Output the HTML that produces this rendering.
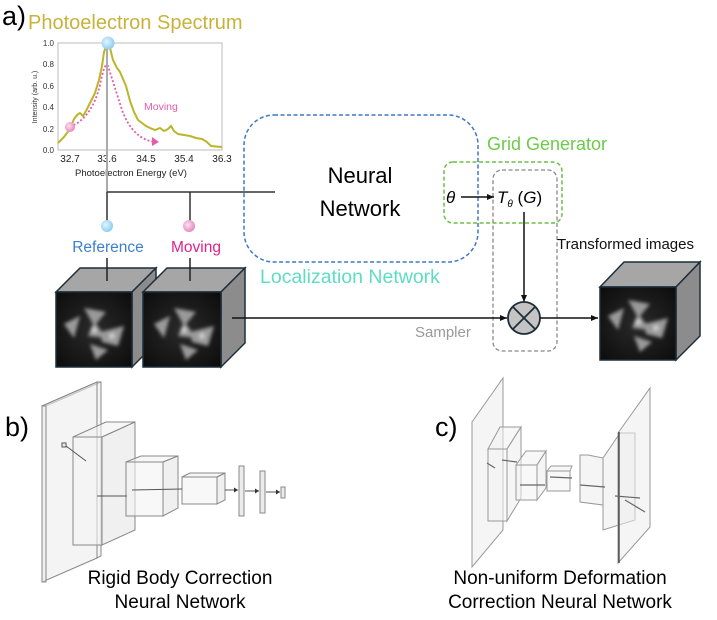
<!DOCTYPE html>
<html><head><meta charset="utf-8"><style>
html,body{margin:0;padding:0;background:#fff;}
svg{display:block;}
text{font-family:"Liberation Sans",sans-serif;}
</style></head><body>
<svg width="717" height="620" viewBox="0 0 717 620" xmlns="http://www.w3.org/2000/svg">
<defs>
<radialGradient id="bb" cx="0.4" cy="0.4" r="0.6"><stop offset="0" stop-color="#e4f6ff"/><stop offset="1" stop-color="#8dcdf0"/></radialGradient>
<radialGradient id="pb" cx="0.4" cy="0.4" r="0.6"><stop offset="0" stop-color="#ffe0f0"/><stop offset="1" stop-color="#e58ac0"/></radialGradient>
<radialGradient id="img" cx="0.5" cy="0.5" r="0.7"><stop offset="0" stop-color="#2a2a2a"/><stop offset="1" stop-color="#0c0c0c"/></radialGradient>
<filter id="bl"><feGaussianBlur stdDeviation="1.8"/></filter>
<g id="tris" filter="url(#bl)" fill="#9a9a9a">
<polygon points="-32,-6 -16,-14 -22,8"/>
<polygon points="-12,-22 10,-18 0,-6 10,8 -8,6 -3,-6"/>
<polygon points="4,2 28,-4 22,16 6,12"/>
<polygon points="-6,14 12,20 0,30"/>
<circle cx="-2" cy="0" r="3" fill="#ccc"/>
<circle cx="16" cy="6" r="3" fill="#ccc"/>
</g>
<marker id="ar" markerWidth="8" markerHeight="8" refX="7" refY="4" orient="auto" markerUnits="userSpaceOnUse"><path d="M0,1 L7,4 L0,7 z" fill="#111"/></marker>
<marker id="as" markerWidth="5" markerHeight="5" refX="4" refY="2.5" orient="auto" markerUnits="userSpaceOnUse"><path d="M0,0 L4,2.5 L0,5 z" fill="#333"/></marker>
</defs>

<!-- a) -->
<text x="2" y="25" font-size="27" fill="#000">a)</text>
<text x="28" y="29" font-size="20" fill="#c9b23a">Photoelectron Spectrum</text>

<!-- plot -->
<rect x="58" y="43" width="164" height="107" fill="#fff" stroke="#bbb" stroke-width="1"/>
<g font-size="8" fill="#333" text-anchor="end">
<text x="54" y="46">1.0</text><text x="54" y="67">0.8</text><text x="54" y="89">0.6</text><text x="54" y="110">0.4</text><text x="54" y="132">0.2</text><text x="54" y="153">0.0</text>
</g>
<text transform="translate(37,97) rotate(-90)" font-size="7" fill="#333" text-anchor="middle">Intensity (arb. u.)</text>
<g font-size="10" fill="#222" text-anchor="middle">
<text x="70" y="162">32.7</text><text x="107" y="162">33.6</text><text x="146" y="162">34.5</text><text x="184" y="162">35.4</text><text x="222" y="162">36.3</text>
</g>
<text x="131" y="176" font-size="9.5" fill="#222" text-anchor="middle">Photoelectron Energy (eV)</text>
<path d="M58,143 L64,137 L70,129 L74,119 L77,115 L80,113 L83,116 L86,111 L90,103 L95,93 L99,80 L102,66 L104,52 L107,44 L110,48 L113,60 L117,68 L120,72 L123,79 L126,86 L130,101 L134,112 L138,120 L142,123 L146,126 L150,128 L155,130 L160,128 L164,131 L168,129 L171,126 L174,131 L178,134 L184,135 L190,136 L196,138 L202,139 L207,142 L211,146 L222,147" fill="none" stroke="#bcb52a" stroke-width="2"/>
<path d="M70,127 Q92,118 100,85 Q105,60 108,66 Q114,85 122,110 Q133,140 156,142" fill="none" stroke="#e65ca8" stroke-width="1.8" stroke-dasharray="2,2"/>
<polygon points="152,137 159,142 152,146" fill="#e65ca8"/>
<text x="144" y="110" font-size="10.5" fill="#e65ca8">Moving</text>
<circle cx="70" cy="127" r="5" fill="url(#pb)"/>

<line x1="107" y1="44" x2="107" y2="192" stroke="#aaa" stroke-width="2"/>
<circle cx="108" cy="43" r="6.5" fill="url(#bb)"/>
<line x1="107" y1="192" x2="275" y2="192" stroke="#333" stroke-width="1.5"/>
<line x1="107" y1="192" x2="107" y2="222" stroke="#333" stroke-width="1.5"/>
<line x1="190" y1="192" x2="190" y2="222" stroke="#333" stroke-width="1.5"/>
<circle cx="107" cy="226" r="6" fill="url(#bb)"/>
<circle cx="189" cy="226" r="6" fill="url(#pb)"/>
<text x="108" y="252" font-size="15.5" fill="#3d7fcf" text-anchor="middle">Reference</text>
<text x="196" y="252" font-size="15.5" fill="#e0228d" text-anchor="middle">Moving</text>

<!-- cubes -->
<g stroke="#1e2e3a" stroke-width="1.5">
<polygon points="56,292 80,268 156,268 132,292" fill="#a6a6a6"/>
<polygon points="132,292 156,268 156,343 132,367" fill="#8c8c8c"/>
<rect x="56" y="292" width="76" height="75" fill="url(#img)"/>
<polygon points="143,292 167,268 245,268 221,292" fill="#a6a6a6"/>
<polygon points="221,292 245,268 245,343 221,367" fill="#8c8c8c"/>
<rect x="143" y="292" width="78" height="75" fill="url(#img)"/>
<polygon points="600,287 624,262 700,262 676,287" fill="#a6a6a6"/>
<polygon points="676,287 700,262 700,336 676,360" fill="#8c8c8c"/>
<rect x="600" y="287" width="76" height="73" fill="url(#img)"/>
</g>
<use href="#tris" x="96" y="330"/>
<use href="#tris" x="186" y="330"/>
<use href="#tris" x="640" y="322"/>
<line x1="107" y1="258" x2="107" y2="281" stroke="#222" stroke-width="1.5"/>
<line x1="190" y1="258" x2="190" y2="281" stroke="#222" stroke-width="1.5"/>

<!-- localization -->
<rect x="244" y="115" width="234" height="147" rx="30" fill="none" stroke="#3d78c8" stroke-width="1.5" stroke-dasharray="4,2.5"/>
<text x="360" y="183" font-size="22" fill="#000" text-anchor="middle">Neural</text>
<text x="360" y="216" font-size="22" fill="#000" text-anchor="middle">Network</text>
<text x="260" y="283" font-size="19.5" fill="#5fdcc4">Localization Network</text>

<!-- grid gen / sampler -->
<rect x="444" y="162" width="118" height="61" rx="9" fill="none" stroke="#6cbf46" stroke-width="1.5" stroke-dasharray="4,2.5"/>
<rect x="493" y="170" width="64" height="181" rx="9" fill="none" stroke="#888" stroke-width="1.3" stroke-dasharray="4,2.5"/>
<text x="487" y="150" font-size="18" fill="#6ccb4a">Grid Generator</text>
<text x="446" y="203" font-size="17" font-style="italic" font-family="Liberation Serif,serif">θ</text>
<line x1="461" y1="197" x2="494" y2="197" stroke="#111" stroke-width="1.5" marker-end="url(#ar)"/>
<text x="497" y="203" font-size="17" font-family="Liberation Serif,serif"><tspan font-style="italic">T</tspan><tspan font-size="10" font-style="italic" dy="4">θ</tspan><tspan dy="-4"> (</tspan><tspan font-style="italic">G</tspan>)</text>
<line x1="524" y1="212" x2="524" y2="302" stroke="#111" stroke-width="1.5" marker-end="url(#ar)"/>
<text x="415" y="337" font-size="15" fill="#9a9a9a">Sampler</text>
<text x="557" y="249" font-size="15" fill="#111">Transformed images</text>
<line x1="232" y1="318" x2="507" y2="318" stroke="#111" stroke-width="1.5" marker-end="url(#ar)"/>
<circle cx="524" cy="318" r="16" fill="#c4c4c4" stroke="#1e2e3a" stroke-width="1.8"/>
<line x1="513" y1="307" x2="535" y2="329" stroke="#1e2e3a" stroke-width="1.8"/>
<line x1="535" y1="307" x2="513" y2="329" stroke="#1e2e3a" stroke-width="1.8"/>
<line x1="540" y1="318" x2="598" y2="318" stroke="#111" stroke-width="1.5" marker-end="url(#ar)"/>

<!-- b) -->
<text x="5" y="436" font-size="27" fill="#000">b)</text>
<g stroke="#888" stroke-width="1" fill="#ececec" fill-opacity="0.6">
<polygon points="42,406 97,382 101,382 46,406"/>
<polygon points="97,382 101,382 101,556 97,558"/>
<polygon points="42,406 97,382 97,558 42,582"/>
<rect x="42" y="406" width="4" height="176"/>
<polygon points="73,437 106,422 135,422 102,437" fill="#f2f2f2"/>
<polygon points="102,437 135,422 135,530 102,545" fill="#e6e6e6"/>
<rect x="73" y="437" width="29" height="108" fill="#f4f4f4"/>
<polygon points="126,462 141,456 178,456 163,462" fill="#f2f2f2"/>
<polygon points="163,462 178,456 178,508 163,516" fill="#e6e6e6"/>
<rect x="126" y="462" width="37" height="54" fill="#f4f4f4"/>
<polygon points="182,477 190,473 225,473 217,477" fill="#f2f2f2"/>
<polygon points="217,477 225,473 225,500 217,504" fill="#e6e6e6"/>
<rect x="182" y="477" width="35" height="27" fill="#f4f4f4"/>
<rect x="239" y="466" width="5" height="50" fill="#ddd"/>
<rect x="260" y="471" width="5" height="42" fill="#ddd"/>
<rect x="281" y="487" width="4" height="11" fill="#ddd"/>
</g>
<g stroke="#555" stroke-width="1">
<line x1="66" y1="446" x2="86" y2="461"/>
<rect x="62" y="443" width="4" height="4" fill="#eee"/>
<line x1="97" y1="496" x2="127" y2="496"/>
<line x1="132" y1="490" x2="182" y2="489"/>
<line x1="225" y1="490" x2="238" y2="490" marker-end="url(#as)"/>
<line x1="245" y1="491" x2="259" y2="491" marker-end="url(#as)"/>
<line x1="266" y1="492" x2="280" y2="492" marker-end="url(#as)"/>
</g>
<text x="180" y="584" font-size="19" fill="#000" text-anchor="middle">Rigid Body Correction</text>
<text x="180" y="608" font-size="19" fill="#000" text-anchor="middle">Neural Network</text>

<!-- c) -->
<text x="435" y="436" font-size="27" fill="#000">c)</text>
<g stroke="#999" stroke-width="1" fill="#ececec" fill-opacity="0.55">
<polygon points="472,422 503,378 503,530 472,567"/>
<polygon points="488,449 500,427 521,427 507,449" fill="#f0f0f0"/>
<polygon points="507,449 521,427 521,498 507,521"/>
<rect x="488" y="449" width="19" height="72" fill="#f2f2f2"/>
<polygon points="516,465 526,451 546,451 537,465" fill="#f0f0f0"/>
<polygon points="537,465 546,451 546,488 537,500"/>
<rect x="516" y="465" width="21" height="35" fill="#f2f2f2"/>
<polygon points="547,471 551,466 572,466 570,471" fill="#f0f0f0"/>
<rect x="547" y="471" width="23" height="20" fill="#f2f2f2"/>
<polygon points="580,455 588,455 603,458 603,505 580,502"/>
<polygon points="603,458 620,433 635,433 635,520 603,530"/>
<polygon points="618,433 650,388 650,527 618,563"/>
</g>
<line x1="619" y1="432" x2="619" y2="563" stroke="#333" stroke-width="1.2"/>
<g stroke="#666" stroke-width="1.2">
<line x1="502" y1="460" x2="517" y2="462"/>
<line x1="520" y1="485" x2="545" y2="485"/>
<line x1="550" y1="477" x2="572" y2="478"/>
<line x1="580" y1="485" x2="605" y2="487"/>
<line x1="615" y1="496" x2="640" y2="498"/>
<line x1="487" y1="463" x2="495" y2="468"/>
<line x1="625" y1="500" x2="645" y2="512"/>
</g>
<text x="560" y="584" font-size="19" fill="#000" text-anchor="middle">Non-uniform Deformation</text>
<text x="560" y="608" font-size="19" fill="#000" text-anchor="middle">Correction Neural Network</text>
</svg>
</body></html>
